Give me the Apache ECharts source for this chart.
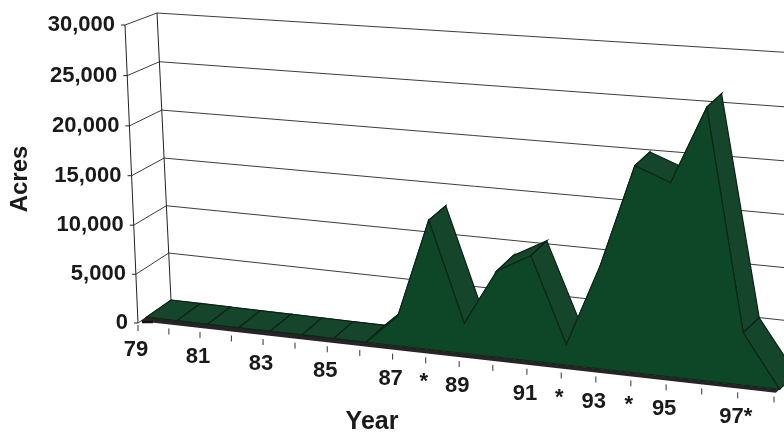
<!DOCTYPE html>
<html lang="en">
<head>
  <meta charset="UTF-8" />
  <title>Acres by year</title>
  <script src="https://cdn.jsdelivr.net/npm/echarts@6/dist/echarts.min.js"></script>
  <style>
    html, body { margin: 0; padding: 0; background: #fff; }
    #main { width: 784px; height: 432px; }
  </style>
</head>
<body>
  <div id="main"></div>
  <script>
    const yearLabels = ['79', '', '81', '', '83', '', '85', '', '87', '*', '89', '', '91', '*', '93', '*', '95', '', '97*', ''];
    const acres = [0, 0, 0, 0, 0, 0, 0, 0, 3000, 12800, 3000, 8500, 10300, 2000, 10000, 19800, 18500, 25800, 5000, 0];
    const yTicks = [0, 5000, 10000, 15000, 20000, 25000, 30000];

    const W = 784, H = 432;
    const lastX = acres.length - 1;
    const yMax = 30000;
    const ribbonFront = 0.25;

    // unit square -> quad, order (0,0) (1,0) (1,1) (0,1)
    function squareToQuad(q) {
      const [x0, y0] = q[0], [x1, y1] = q[1], [x2, y2] = q[2], [x3, y3] = q[3];
      const dx1 = x1 - x2, dx2 = x3 - x2, sx = x0 - x1 + x2 - x3;
      const dy1 = y1 - y2, dy2 = y3 - y2, sy = y0 - y1 + y2 - y3;
      const d = dx1 * dy2 - dx2 * dy1;
      const g = (sx * dy2 - dx2 * sy) / d;
      const h = (dx1 * sy - sx * dy1) / d;
      const a = x1 - x0 + g * x1, b = x3 - x0 + h * x3;
      const e = y1 - y0 + g * y1, f = y3 - y0 + h * y3;
      return (s, t) => {
        const k = g * s + h * t + 1;
        return [(a * s + b * t + x0) / k, (e * s + f * t + y0) / k];
      };
    }

    const frontWall = squareToQuad([[138, 323], [774, 394.5], [776, 71], [125, 25]]);
    const backWall = squareToQuad([[171, 300], [796, 374], [796, 53], [157, 13]]);

    // api.coord gives position in the flat hidden grid, then it is bent into the 3d box
    function project(api, x, y, w) {
      const p = api.coord([x, y]);
      const s = p[0] / W, t = 1 - p[1] / H;
      const f = frontWall(s, t), b = backWall(s, t);
      return [f[0] + (b[0] - f[0]) * w, f[1] + (b[1] - f[1]) * w];
    }

    function line(a, b, stroke, lineWidth) {
      return {
        type: 'line',
        shape: { x1: a[0], y1: a[1], x2: b[0], y2: b[1] },
        style: { stroke: stroke, lineWidth: lineWidth }
      };
    }

    function renderGrid(params, api) {
      const v = api.value(0);
      const axisPt = project(api, 0, v, 0);
      const backPt = project(api, 0, v, 1);
      const rightPt = project(api, lastX, v, 1);
      return {
        type: 'group',
        children: [
          line(backPt, rightPt, '#3d3d3d', 1),
          line(axisPt, backPt, '#3d3d3d', 1),
          line([axisPt[0] - 4, axisPt[1]], axisPt, '#222', 1),
          {
            type: 'text',
            style: {
              text: v.toLocaleString('en-US'),
              x: axisPt[0] - 10,
              y: axisPt[1],
              align: 'right',
              verticalAlign: 'middle',
              fill: '#1a1a1a',
              font: 'bold 22px "Liberation Sans"'
            }
          }
        ]
      };
    }

    function renderUprights(params, api) {
      return {
        type: 'group',
        children: [
          line(project(api, 0, 0, 0), project(api, 0, yMax, 0), '#222', 1),
          line(project(api, 0, 0, 1), project(api, 0, yMax, 1), '#222', 1)
        ]
      };
    }

    function renderTicks(params, api) {
      const i = api.value(0);
      const p = project(api, i, 0, 0);
      const label = yearLabels[i];
      const children = [line([p[0], p[1] + 2], [p[0], p[1] + 8], '#333', 1)];
      if (label) {
        children.push({
          type: 'text',
          style: {
            text: label,
            x: p[0] - 2,
            y: p[1] + 27,
            align: 'center',
            verticalAlign: 'middle',
            fill: '#1a1a1a',
            font: 'bold 22px "Liberation Sans"'
          }
        });
      }
      return { type: 'group', children: children };
    }

    // sloping band from the front profile back to the wall, one per year
    function renderRibbon(params, api) {
      const i = api.value(0);
      if (i >= lastX) return null;
      const a = acres[i], b = acres[i + 1];
      return {
        type: 'polygon',
        shape: {
          points: [
            project(api, i, a, ribbonFront),
            project(api, i + 1, b, ribbonFront),
            project(api, i + 1, b, 1),
            project(api, i, a, 1)
          ]
        },
        style: { fill: '#15452a', stroke: '#0b2215', lineWidth: 1.2 }
      };
    }

    function renderBase(params, api) {
      const left = project(api, 0, 0, 0);
      return {
        type: 'group',
        children: [
          {
            type: 'polygon',
            shape: {
              points: [
                project(api, 0, 0, ribbonFront),
                project(api, lastX, 0, ribbonFront),
                project(api, lastX, 0, 0.08),
                project(api, 0, 0, 0.08)
              ]
            },
            style: { fill: '#2a2326' }
          },
          line([left[0] + 4, left[1] - 1], [left[0] + 15, left[1] - 1], '#111', 2.5)
        ]
      };
    }

    function renderFace(params, api) {
      const pts = [project(api, 0, 0, ribbonFront)];
      acres.forEach((v, i) => pts.push(project(api, i, v, ribbonFront)));
      pts.push(project(api, lastX, 0, ribbonFront));
      return {
        type: 'polygon',
        shape: { points: pts },
        style: { fill: '#0e4727', stroke: '#0b2817', lineWidth: 1.2 }
      };
    }

    const xIndex = acres.map((v, i) => [i]);

    function customSeries(renderItem, data) {
      return {
        type: 'custom',
        coordinateSystem: 'cartesian2d',
        renderItem: renderItem,
        data: data,
        silent: true,
        animation: false,
        clip: false
      };
    }

    const chart = echarts.init(document.getElementById('main'), null, { renderer: 'canvas' });
    chart.setOption({
      backgroundColor: '#ffffff',
      animation: false,
      grid: { left: 0, top: 0, width: W, height: H },
      xAxis: { type: 'value', min: 0, max: lastX, show: false },
      yAxis: { type: 'value', min: 0, max: yMax, show: false },
      graphic: [
        {
          type: 'text',
          x: 20,
          y: 179,
          rotation: Math.PI / 2,
          style: {
            text: 'Acres',
            align: 'center',
            verticalAlign: 'middle',
            fill: '#1a1a1a',
            font: 'bold 24px "Liberation Sans"'
          }
        },
        {
          type: 'text',
          x: 372,
          y: 422,
          style: {
            text: 'Year',
            align: 'center',
            verticalAlign: 'middle',
            fill: '#1a1a1a',
            font: 'bold 25px "Liberation Sans"'
          }
        }
      ],
      series: [
        customSeries(renderGrid, yTicks.map(v => [v])),
        customSeries(renderUprights, [[0]]),
        customSeries(renderTicks, xIndex),
        customSeries(renderRibbon, xIndex),
        customSeries(renderBase, [[0]]),
        customSeries(renderFace, [[0]])
      ]
    });
  </script>
</body>
</html>
